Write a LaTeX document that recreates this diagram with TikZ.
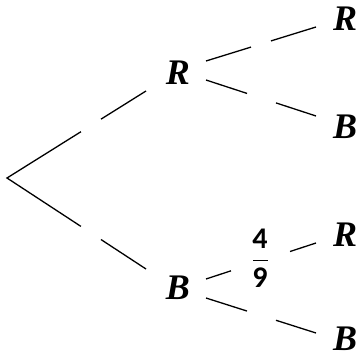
\documentclass[tikz,border=0pt]{standalone}
\usepackage{fontspec}
\setmainfont{Liberation Serif}
\newfontfamily\digitfont{Carlito}
\usetikzlibrary{calc}
\begin{document}
\begin{tikzpicture}[x=1pt,y=-1pt,
  lbl/.style={font=\fontsize{36}{36}\selectfont\bfseries\itshape, inner sep=0pt},
  num/.style={font=\digitfont\fontsize{30}{30}\selectfont\bfseries, inner sep=0pt},
  branch/.style={line width=1.3pt, black}]
\useasboundingbox (0,0) rectangle (358,358);
% nodes
\coordinate (root) at (7,178);
\node[lbl] (R1) at (178,73) {R};
\node[lbl] (B1) at (178,288) {B};
\node[lbl] (R2) at (345,19) {R};
\node[lbl] (B2) at (345,127) {B};
\node[lbl] (R3) at (345,235) {R};
\node[lbl] (B3) at (345,339) {B};
\node[num] (n4) at (260,239) {4};
\node[num] (n9) at (260,278) {9};
\draw[line width=1pt] (253,260) -- (268,260);
% edge end points
\coordinate (a1) at ($(R1)+(-32,18)$);
\coordinate (a2) at ($(B1)+(-32,-19)$);
\coordinate (s3) at ($(R1)+(28,-12)$);
\coordinate (e3) at ($(R2)+(-29,8)$);
\coordinate (s4) at ($(R1)+(28,7)$);
\coordinate (e4) at ($(B2)+(-29,-11)$);
\coordinate (s5) at ($(B1)+(28,-9)$);
\coordinate (e5) at ($(R3)+(-29,8)$);
\coordinate (s6) at ($(B1)+(28,10)$);
\coordinate (e6) at ($(B3)+(-29,-6)$);
% branches with gaps
\draw[branch] (a1) -- ($(root)!0.676!(a1)$) ($(root)!0.532!(a1)$) -- (root) -- ($(root)!0.532!(a2)$) ($(root)!0.676!(a2)$) -- (a2);
\draw[branch] (s3) -- ($(s3)!0.409!(e3)$) ($(s3)!0.591!(e3)$) -- (e3);
\draw[branch] (s4) -- ($(s4)!0.373!(e4)$) ($(s4)!0.636!(e4)$) -- (e4);
\draw[branch] (s5) -- ($(s5)!0.227!(e5)$) ($(s5)!0.764!(e5)$) -- (e5);
\draw[branch] (s6) -- ($(s6)!0.373!(e6)$) ($(s6)!0.636!(e6)$) -- (e6);
\end{tikzpicture}
\end{document}
